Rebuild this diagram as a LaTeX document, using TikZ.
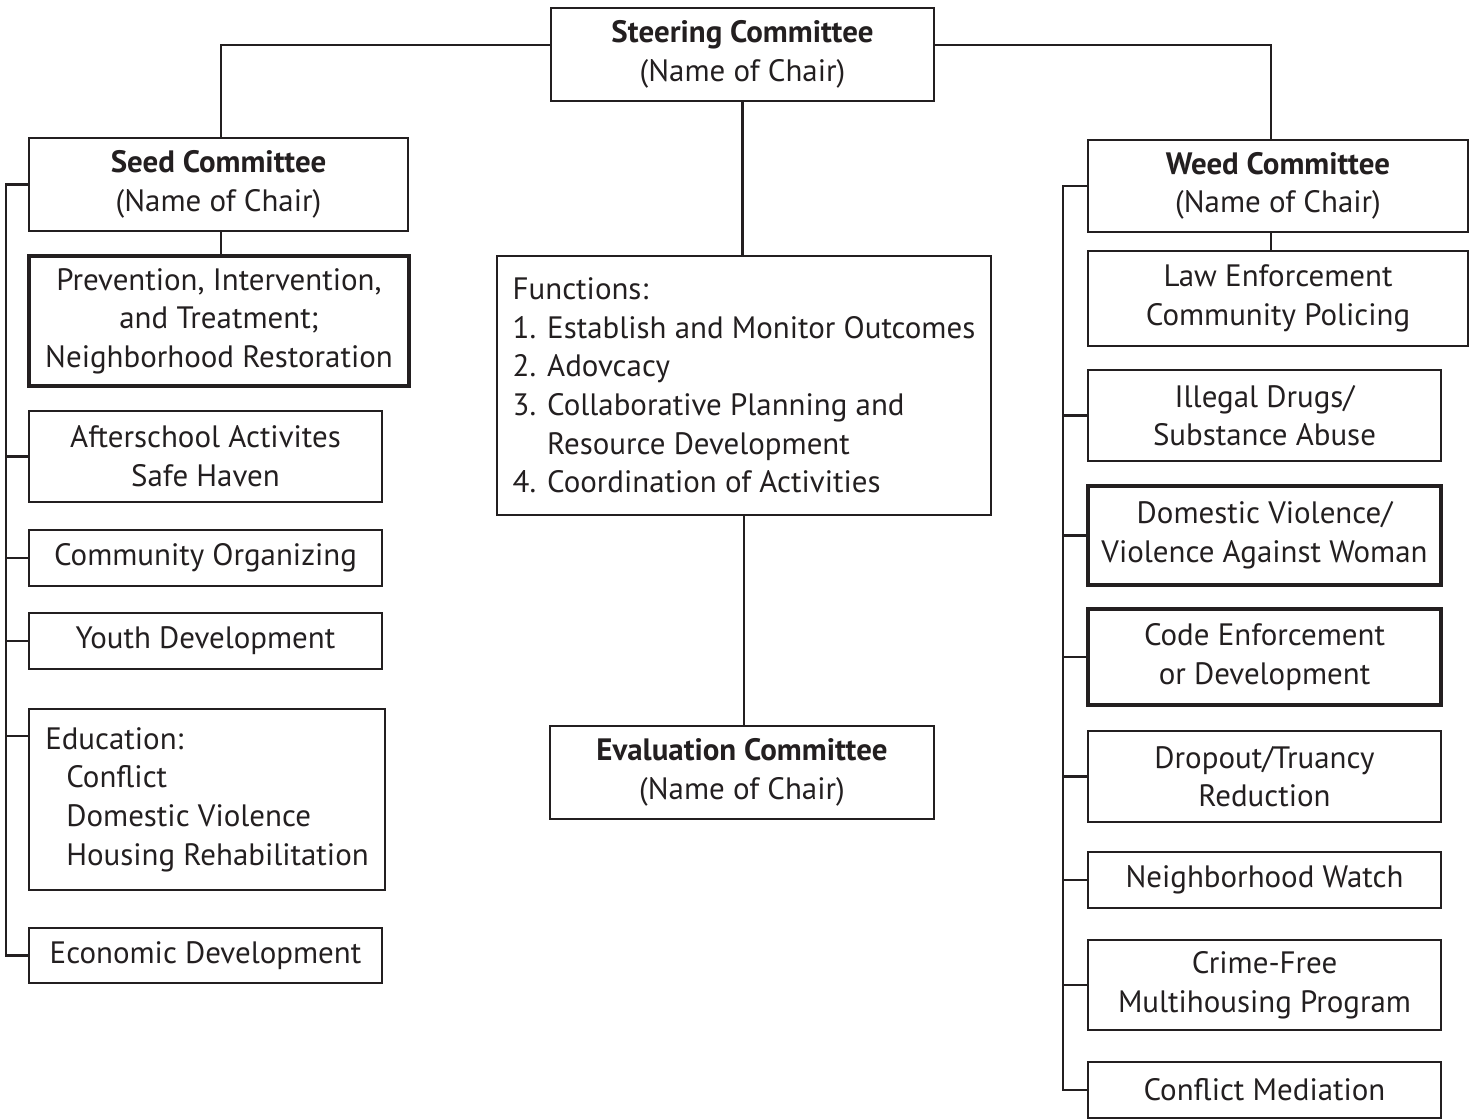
\documentclass[tikz,border=0pt]{standalone}
\usepackage{fontspec}
\setmainfont{PT Sans}
\definecolor{ink}{HTML}{231F20}
\begin{document}
\begin{tikzpicture}[x=0.02cm, y=-0.02cm, color=ink,
    font=\fontsize{17.6}{22}\selectfont,
    box/.style={draw, line width=1.4pt, inner sep=0pt, align=center},
    heavybox/.style={box, line width=2pt},
    boxsize/.style 2 args={minimum width=#1*0.02cm, minimum height=#2*0.02cm},
    link/.style={line width=1.4pt}]
  \useasboundingbox (0,0) rectangle (1470,1119);

  % top and middle column
  \node[box, boxsize={383}{93}] (steer) at (742.5,54.5) {\textbf{Steering Committee}\\(Name of Chair)};
  \node[box, boxsize={494}{259}, align=left] (func) at (744,385.5)
    {Functions:\\1. Establish and Monitor Outcomes\\2. Adovcacy\\3. Collaborative Planning and\\\hphantom{3. }Resource Development\\4. Coordination of Activities};
  \node[box, boxsize={384}{93}] (eval) at (742,772.5) {\textbf{Evaluation Committee}\\(Name of Chair)};

  % seed side
  \node[box, boxsize={379}{93}] (seed) at (218.5,184.5) {\textbf{Seed Committee}\\(Name of Chair)};
  \node[heavybox, boxsize={380}{130}] (prev) at (219,321) {Prevention, Intervention,\\and Treatment;\\Neighborhood Restoration};
  \node[box, boxsize={353}{91}] (after) at (205.5,456.5) {Afterschool Activites\\Safe Haven};
  \node[box, boxsize={353}{56}] (commorg) at (205.5,558) {Community Organizing};
  \node[box, boxsize={353}{56}] (youth) at (205.5,641) {Youth Development};
  \node[box, boxsize={356}{181}, align=left] (edu) at (207,799.5)
    {Education:\\\hspace*{12pt}Conflict\\\hspace*{12pt}Domestic Violence\\\hspace*{12pt}Housing Rehabilitation};
  \node[box, boxsize={353}{55}] (econ) at (205.5,955.5) {Economic Development};

  % weed side
  \node[box, boxsize={380}{92}] (weed) at (1278,186) {\textbf{Weed Committee}\\(Name of Chair)};
  \node[box, boxsize={380}{95}] (law) at (1278,298.5) {Law Enforcement\\Community Policing};
  \node[box, boxsize={353}{91}] (drugs) at (1264.5,415.5) {Illegal Drugs/\\Substance Abuse};
  \node[heavybox, boxsize={353}{99}] (domv) at (1264.5,535.5) {Domestic Violence/\\Violence Against Woman};
  \node[heavybox, boxsize={353}{96}] (code) at (1264.5,657) {Code Enforcement\\or Development};
  \node[box, boxsize={353}{91}] (drop) at (1264.5,776.5) {Dropout/Truancy\\Reduction};
  \node[box, boxsize={353}{56}] (watch) at (1264.5,880) {Neighborhood Watch};
  \node[box, boxsize={353}{90}] (crime) at (1264.5,985) {Crime-Free\\Multihousing Program};
  \node[box, boxsize={353}{56}] (confl) at (1264.5,1090) {Conflict Mediation};

  % connectors
  \draw[link] ([yshift=0.19cm]steer.west) -| ([xshift=0.05cm]seed.north);
  \draw[link] ([yshift=0.19cm]steer.east) -| ([xshift=-0.14cm]weed.north);
  \draw[link] (steer.south) -- (steer.south |- func.north);
  \draw[link] (func.south) -- (func.south |- eval.north);
  \draw[link] ([xshift=0.05cm]seed.south) -- ([xshift=0.05cm]seed.south |- prev.north);
  \draw[link] ([xshift=-0.14cm]weed.south) -- ([xshift=-0.14cm]weed.south |- law.north);

  \draw[link] (seed.west) -- ++(-22,0) coordinate (lt) |- (econ.west);
  \foreach \n in {after,commorg,youth}
    \draw[link] (\n.west) -- (\n.west -| lt);
  \draw[link] ([yshift=-0.56cm]edu.north west) -- ([yshift=-0.56cm]edu.north west -| lt);

  \draw[link] (weed.west) -- ++(-24,0) coordinate (rt) |- (confl.west);
  \foreach \n in {drugs,domv,code,drop,watch,crime}
    \draw[link] (\n.west) -- (\n.west -| rt);
\end{tikzpicture}
\end{document}
